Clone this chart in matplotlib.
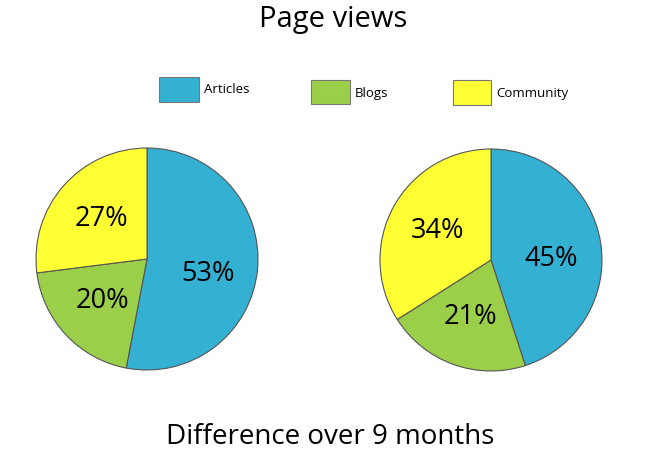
import matplotlib.pyplot as plt
from matplotlib.patches import Rectangle

categories = ["Articles", "Blogs", "Community"]
before = [53, 20, 27]
after = [45, 21, 34]
colors = ["#33b0d2", "#9bcf4a", "#ffff33"]

plt.rcParams['font.family'] = ['Open Sans', 'DejaVu Sans']

W, H = 652, 472
fig = plt.figure(figsize=(W / 100, H / 100), dpi=100)


def pie_axes(cx, cy, r):
    # cx, cy, r in pixels (y from top); limits padded by 10%
    pad = 1.1
    s = r * pad
    return fig.add_axes([(cx - s) / W, (H - cy - s) / H, 2 * s / W, 2 * s / H])


for vals, (cx, cy) in [(before, (147, 259)), (after, (491, 260))]:
    ax = pie_axes(cx, cy, 111)
    wedges, texts, pcts = ax.pie(
        vals, colors=colors, startangle=90, counterclock=False,
        autopct=lambda p: '%d%%' % round(p), pctdistance=0.55,
        wedgeprops=dict(edgecolor='#555555', linewidth=0.8),
        textprops=dict(fontsize=19.5, color='black'))
    # the big slice label sits a bit lower in the original
    x, y = pcts[0].get_position()
    pcts[0].set_position((x, y - 0.08))
    ax.set_xlim(-1.1, 1.1)
    ax.set_ylim(-1.1, 1.1)
    ax.set_aspect('equal')
    ax.axis('off')

# legend boxes
legend_pos = [(159, 77, 40, 25, 204, 90), (311, 80, 39, 24, 355, 93),
              (453, 80, 38, 25, 496, 94)]
for name, col, (x, y, w, h, tx, ty) in zip(categories, colors, legend_pos):
    fig.add_artist(Rectangle((x / W, (H - y - h) / H), w / W, h / H,
                             transform=fig.transFigure, facecolor=col,
                             edgecolor='#777777', linewidth=0.8))
    fig.text(tx / W, 1 - ty / H, name, fontsize=9.5, va='center', ha='left')

fig.text(333 / W, 1 - 20 / H, "Page views", fontsize=21, ha='center', va='center')
fig.text(330 / W, 1 - 437 / H, "Difference over 9 months", fontsize=20,
         ha='center', va='center')

fig.savefig("out.png", dpi=100)
